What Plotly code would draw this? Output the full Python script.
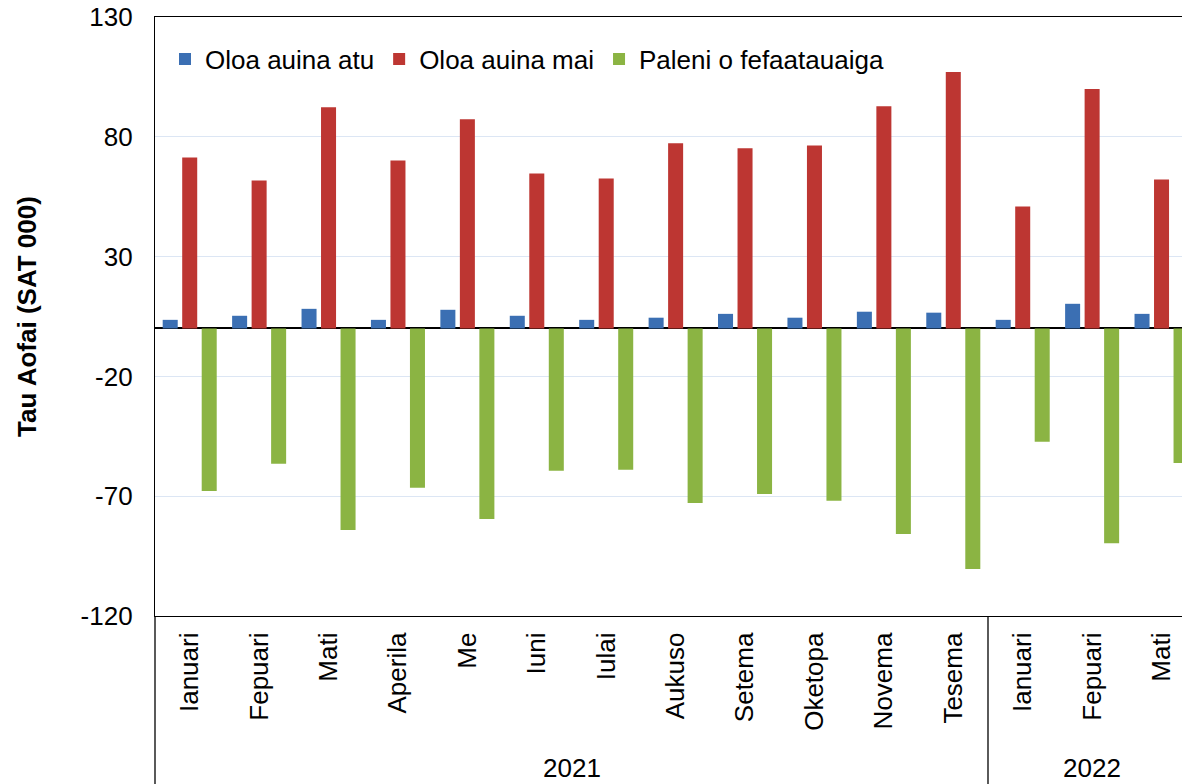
import plotly.graph_objects as go

months = ["Ianuari", "Fepuari", "Mati", "Aperila", "Me", "Iuni", "Iulai", "Aukuso",
          "Setema", "Oketopa", "Novema", "Tesema", "Ianuari", "Fepuari", "Mati"]
years = ["2021", "2022"]
months_per_year = [12, 3]

exports = [3.6, 5.3, 8.2, 3.6, 7.8, 5.3, 3.6, 4.5, 6.1, 4.5, 7.0, 6.6, 3.6, 10.3, 6.1]
imports = [71.4, 61.8, 92.3, 70.1, 87.3, 64.7, 62.6, 77.3, 75.2, 76.4, 92.8, 107.0, 50.9, 99.9, 62.2]
balance = [-67.8, -56.5, -84.1, -66.5, -79.5, -59.4, -59.0, -72.8, -69.1, -71.9, -85.8, -100.4, -47.3, -89.6, -56.1]

y_tick_vals = [-120, -70, -20, 30, 80, 130]
y_tick_text = ["-120", "-70", "-20", "30", "80", "130"]

series_names = ["Oloa auina atu", "Oloa auina mai", "Paleni o fefaatauaiga"]
colors = ["#3b6fb3", "#bd3632", "#8bb443"]

FONT = "Liberation Sans, Arial, sans-serif"
# page body has an 8px default margin; margins compensate for it
W, H = 1190, 784
ML, MR, MT, MB = 147, 8, 9, 176
x_idx = list(range(len(months)))
x_range = [-0.5, 14.41]

fig = go.Figure()
for name, vals, col in zip(series_names, [exports, imports, balance], colors):
    fig.add_trace(go.Bar(x=x_idx, y=vals, name=name,
                         marker=dict(color=col, line=dict(width=0))))

plot_h = H - MT - MB
plot_w = W - ML - MR

shapes = []
annotations = []
start = 0
for i, (yr, n) in enumerate(zip(years, months_per_year)):
    center = start + (n - 1) / 2
    annotations.append(dict(x=center, xref="x", y=-(152) / plot_h, yref="paper",
                            text=yr, showarrow=False, font=dict(size=26, color="#000", family=FONT),
                            xanchor="center", yanchor="middle"))
    if i < len(years) - 1:
        bx = (start + n - 0.5 - x_range[0]) / (x_range[1] - x_range[0])
        shapes.append(dict(type="line", xref="paper", yref="paper", x0=bx, x1=bx,
                           y0=0, y1=-MB / plot_h, line=dict(color="#000", width=1.3)))
    start += n
shapes.append(dict(type="line", xref="paper", yref="paper", x0=0, x1=0,
                   y0=0, y1=-MB / plot_h, line=dict(color="#000", width=1.3)))

fig.update_layout(
    width=W, height=H,
    margin=dict(l=ML, r=MR, t=MT, b=MB, pad=0, autoexpand=False),
    paper_bgcolor="white", plot_bgcolor="white",
    barmode="group",
    bargap=0.157, bargroupgap=0.23,
    font=dict(family=FONT, size=26, color="#000"),
    legend=dict(orientation="h", x=10 / plot_w, xanchor="left", y=1 - 42 / plot_h, yanchor="middle",
                font=dict(size=26, family=FONT), bgcolor="rgba(0,0,0,0)",
                itemclick=False, tracegroupgap=0),
    showlegend=True,
    shapes=shapes,
    annotations=annotations,
    xaxis=dict(range=x_range, tickmode="array", tickvals=x_idx, ticktext=months,
               tickangle=-90, tickfont=dict(size=26, family=FONT), ticks="outside",
               ticklen=0, tickcolor="white", ticklabelstandoff=5, automargin=False,
               showline=True, linecolor="#000", linewidth=1.3, mirror=True,
               showgrid=False, zeroline=False, fixedrange=True),
    yaxis=dict(range=[-120, 130], tickmode="array", tickvals=y_tick_vals, ticktext=y_tick_text,
               tickfont=dict(size=26, family=FONT), ticklabeloverflow="allow", automargin=False,
               ticks="outside", ticklen=0, tickcolor="white", ticklabelstandoff=16,
               showline=True, linecolor="#000", linewidth=1.3, mirror=False,
               showgrid=True, gridcolor="#dce6f4", gridwidth=1,
               zeroline=True, zerolinecolor="#000", zerolinewidth=1.5,
               title=dict(text="<b>Tau Aofai (SAT 000)</b>", standoff=36,
                          font=dict(size=26, family=FONT)),
               fixedrange=True),
)

fig.write_html("out.html")
